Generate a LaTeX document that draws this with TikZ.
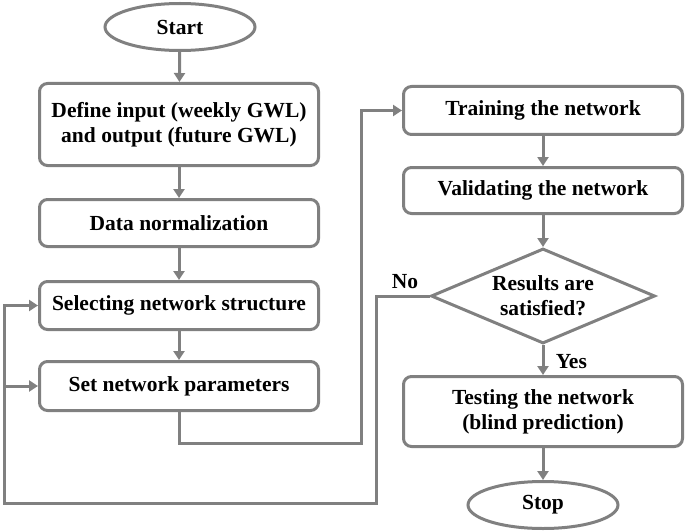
\documentclass[tikz,border=0pt]{standalone}
\usepackage{fontspec}
\setmainfont{Liberation Serif}
\usetikzlibrary{shapes.geometric,arrows.meta}
\definecolor{linegray}{RGB}{128,128,128}
\begin{document}
\begin{tikzpicture}
  [x=1pt,y=-1pt
  ,every node/.style={font=\fontsize{21.5}{25}\selectfont\bfseries}
  ,block/.style={rectangle,draw=linegray,line width=3pt,rounded corners=8pt,minimum width=279pt,inner sep=2pt,align=center}
  ,term/.style={ellipse,draw=linegray,line width=3pt,minimum width=150pt,minimum height=47pt,inner sep=0pt}
  ,decision/.style={diamond,draw=linegray,line width=3pt,minimum width=224pt,minimum height=95pt,inner sep=0pt}
  ,flow/.style={draw=linegray,line width=3pt,-{Triangle[length=9pt,width=11pt]}}]
\useasboundingbox (0,0) rectangle (685,532);
\node at (180,27)    (start)  [term] {Start};
\node at (179,124.5) (define) [block,minimum height=82pt] {Define input (weekly GWL)\\and output (future GWL)};
\node at (179,223)   (norm)   [block,minimum height=47pt] {Data normalization};
\node at (179,305.5) (select) [block,minimum height=48pt] {Selecting network structure};
\node at (179,386)   (params) [block,minimum height=49pt] {Set network parameters};
\node at (543,110.5) (train)  [block,minimum height=48pt] {Training the network};
\node at (543,190.5) (valid)  [block,minimum height=46pt] {Validating the network};
\node at (543,296)   (check)  [decision] {};
\node at (check.center) (checktext) [align=center] {Results are\\satisfied?};
\node at (543,411.5) (test)   [block,minimum height=70pt] {Testing the network\\(blind prediction)};
\node at (543,505)   (stop)   [term] {Stop};
%
\coordinate (c1) at (361,443);
\coordinate (n1) at (376,503);
\coordinate (n2) at (4,503);
%
\draw [flow] (start)  -- (define);
\draw [flow] (define) -- (norm);
\draw [flow] (norm)   -- (select);
\draw [flow] (select) -- (params);
\draw [flow] (params.south) |- (c1) |- (train.west);
\draw [flow] (train)  -- (valid);
\draw [flow] (valid)  -- (check.north);
\draw [flow] (check.south) -- (test.north) node[pos=0.55,right=8pt]{Yes};
\draw [flow] (test)   -- (stop);
%
\draw [flow] (check.west) -| (n1) -- (n2) |- (select.west);
\draw [flow] (n2 |- params.west) -- (params.west);
\node at (405,282) (no) {No};
\end{tikzpicture}
\end{document}
